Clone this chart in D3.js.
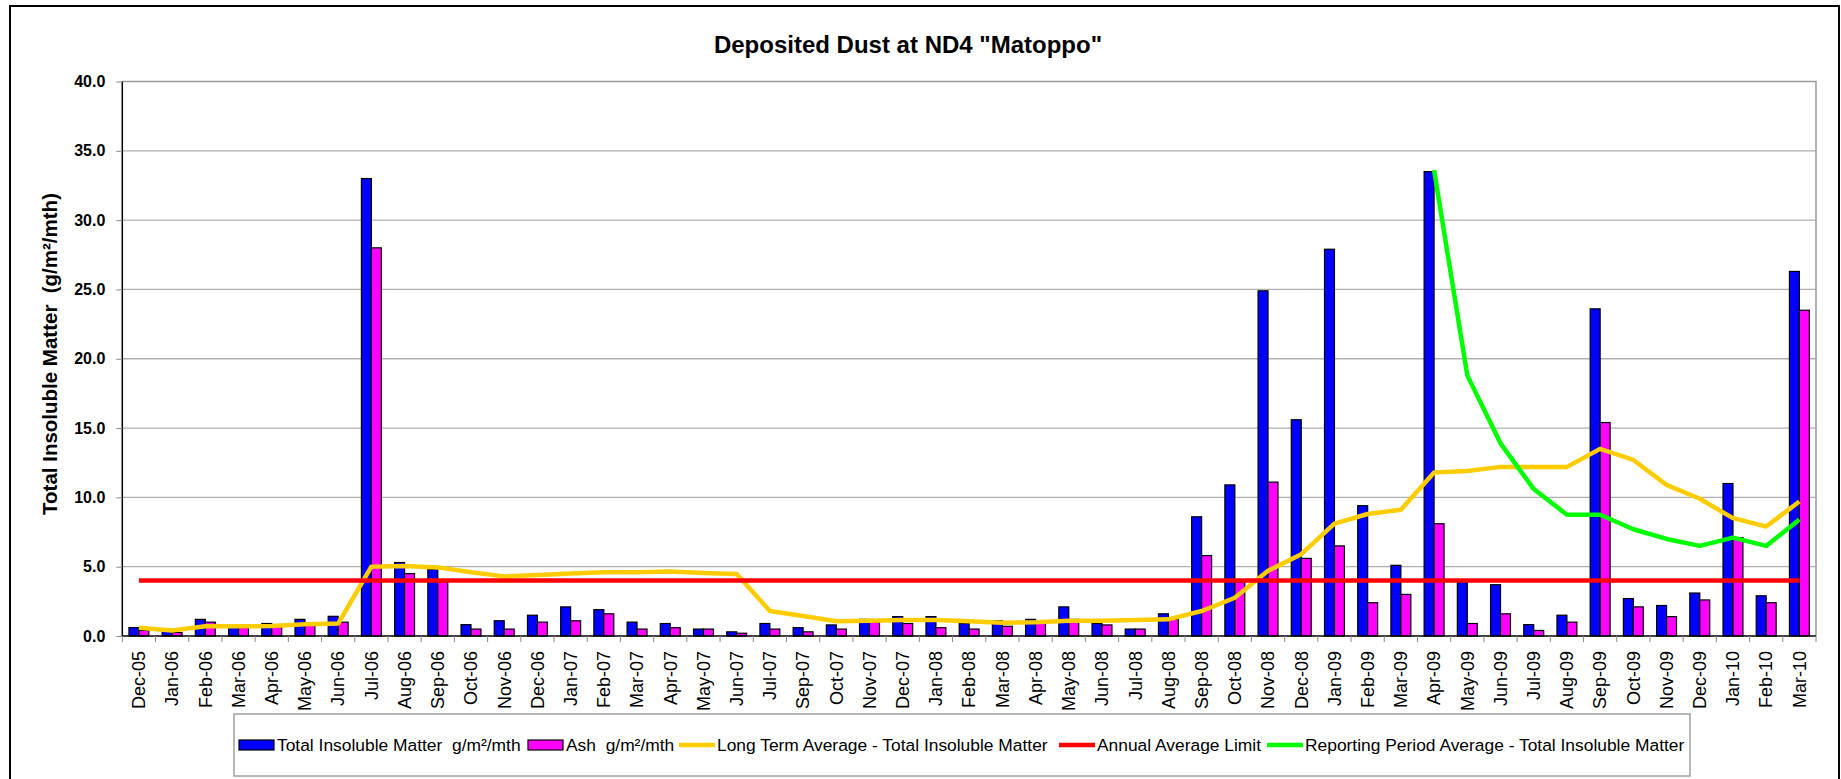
<!DOCTYPE html>
<html>
<head>
<meta charset="utf-8">
<script src="https://cdn.jsdelivr.net/npm/d3@7/dist/d3.min.js"></script>
<style>
  html, body { margin: 0; padding: 0; background: #fff; }
  svg { display: block; font-family: "Liberation Sans", Arial, sans-serif; }
</style>
</head>
<body>
<svg id="chart" width="1841" height="779"></svg>
<script>
const months = ["Dec-05","Jan-06","Feb-06","Mar-06","Apr-06","May-06","Jun-06","Jul-06","Aug-06","Sep-06","Oct-06","Nov-06","Dec-06","Jan-07","Feb-07","Mar-07","Apr-07","May-07","Jun-07","Jul-07","Sep-07","Oct-07","Nov-07","Dec-07","Jan-08","Feb-08","Mar-08","Apr-08","May-08","Jun-08","Jul-08","Aug-08","Sep-08","Oct-08","Nov-08","Dec-08","Jan-09","Feb-09","Mar-09","Apr-09","May-09","Jun-09","Jul-09","Aug-09","Sep-09","Oct-09","Nov-09","Dec-09","Jan-10","Feb-10","Mar-10"];

const totalInsoluble = [0.6,0.35,1.2,0.6,0.9,1.2,1.42,33.0,5.3,4.8,0.82,1.1,1.5,2.1,1.9,1.0,0.9,0.5,0.3,0.9,0.6,0.8,1.2,1.4,1.4,0.9,1.1,1.2,2.1,0.9,0.5,1.6,8.6,10.9,24.9,15.6,27.9,9.4,5.1,33.5,3.9,3.7,0.82,1.5,23.6,2.7,2.2,3.1,11.0,2.9,26.3];

const ash = [0.4,0.25,1.0,0.6,0.75,0.9,1.0,28.0,4.5,3.9,0.5,0.5,1.0,1.1,1.6,0.5,0.6,0.5,0.2,0.5,0.3,0.5,1.0,0.9,0.6,0.5,0.7,0.9,1.2,0.8,0.5,1.2,5.8,3.9,11.1,5.6,6.5,2.4,3.0,8.1,0.9,1.6,0.4,1.0,15.4,2.1,1.4,2.6,7.1,2.4,23.5];

const longTermAvg = [0.6,0.4,0.7,0.7,0.72,0.85,0.9,5.0,5.05,4.95,4.6,4.3,4.4,4.5,4.6,4.6,4.65,4.55,4.47,1.8,1.45,1.06,1.1,1.15,1.15,1.06,0.96,1.0,1.1,1.1,1.15,1.2,1.8,2.76,4.7,5.9,8.1,8.8,9.1,11.8,11.9,12.2,12.2,12.2,13.5,12.7,10.9,9.9,8.5,7.9,9.7];

const annualLimit = months.map(() => 4.0);

const reportingAvg = [null,null,null,null,null,null,null,null,null,null,null,null,null,null,null,null,null,null,null,null,null,null,null,null,null,null,null,null,null,null,null,null,null,null,null,null,null,null,null,33.6,18.8,13.9,10.6,8.75,8.75,7.7,7.0,6.5,7.1,6.5,8.4];

const yTicks = [0,5,10,15,20,25,30,35,40];

const titleText = 'Deposited Dust at ND4 "Matoppo"';
const yTitle = "Total Insoluble Matter  (g/m\u00B2/mth)";
const legendLabels = [
  "Total Insoluble Matter  g/m\u00B2/mth",
  "Ash  g/m\u00B2/mth",
  "Long Term Average - Total Insoluble Matter",
  "Annual Average Limit",
  "Reporting Period Average - Total Insoluble Matter"
];

const svg = d3.select("#chart");
const plot = { left: 122.3, right: 1816, top: 81.5, bottom: 636 };

// outer border
svg.append("rect").attr("x", 10).attr("y", 6).attr("width", 1829).attr("height", 800)
  .attr("fill", "#fff").attr("stroke", "#000").attr("stroke-width", 2);

const x = d3.scaleBand().domain(months).range([plot.left, plot.right]).paddingInner(0).paddingOuter(0);
const y = d3.scaleLinear().domain([0, 40]).range([plot.bottom, plot.top]);
const bw = x.bandwidth();
const barW = bw * 0.30;

// gridlines
svg.append("g").selectAll("line").data(yTicks.filter(d => d > 0 && d < 40)).join("line")
  .attr("x1", plot.left).attr("x2", plot.right)
  .attr("y1", d => y(d)).attr("y2", d => y(d))
  .attr("stroke", "#b0b0b0").attr("stroke-width", 1.3);

// plot area top & right border
svg.append("path")
  .attr("d", `M${plot.left},${y(40)}H${plot.right}V${plot.bottom}`)
  .attr("fill", "none").attr("stroke", "#9a9a9a").attr("stroke-width", 1.5);

// bars
const barsG = svg.append("g");
barsG.selectAll("rect.tim").data(months).join("rect")
  .attr("class", "tim")
  .attr("x", d => x(d) + bw / 2 - barW)
  .attr("y", (d, i) => y(totalInsoluble[i]))
  .attr("width", barW)
  .attr("height", (d, i) => y(0) - y(totalInsoluble[i]))
  .attr("fill", "#0000FF").attr("stroke", "#000").attr("stroke-width", 1.2);
barsG.selectAll("rect.ash").data(months).join("rect")
  .attr("class", "ash")
  .attr("x", d => x(d) + bw / 2)
  .attr("y", (d, i) => y(ash[i]))
  .attr("width", barW)
  .attr("height", (d, i) => y(0) - y(ash[i]))
  .attr("fill", "#FF00FF").attr("stroke", "#000").attr("stroke-width", 1.2);

// lines
const lineGen = d3.line()
  .defined(d => d.v !== null)
  .x(d => x(d.m) + bw / 2)
  .y(d => y(d.v));
function series(arr) { return months.map((m, i) => ({ m, v: arr[i] })); }

svg.append("path").datum(series(longTermAvg)).attr("d", lineGen)
  .attr("fill", "none").attr("stroke", "#FFCC00").attr("stroke-width", 4.5).attr("stroke-linejoin", "round");
svg.append("path").datum(series(annualLimit)).attr("d", lineGen)
  .attr("fill", "none").attr("stroke", "#FF0000").attr("stroke-width", 4.5);
svg.append("path").datum(series(reportingAvg)).attr("d", lineGen)
  .attr("fill", "none").attr("stroke", "#00FF00").attr("stroke-width", 4.5).attr("stroke-linejoin", "round");

// y axis
const yAxis = d3.axisLeft(y).tickValues(yTicks).tickFormat(d3.format(".1f")).tickSize(6).tickPadding(11);
const yG = svg.append("g").attr("transform", `translate(${plot.left},0)`).call(yAxis);
yG.select(".domain").attr("stroke", "#000").attr("stroke-width", 1.5).attr("d", `M0,${plot.top}V${plot.bottom}`);
yG.selectAll(".tick line").attr("stroke", "#888");
yG.selectAll(".tick text").attr("font-size", 16).attr("font-weight", "bold")
  .attr("font-family", "Liberation Sans, Arial, sans-serif").attr("fill", "#000");

// x axis
const xAxis = d3.axisBottom(x).tickSize(0).tickPadding(0);
const xG = svg.append("g").attr("transform", `translate(0,${plot.bottom})`).call(xAxis);
xG.select(".domain").attr("stroke", "#000").attr("stroke-width", 1.5).attr("d", `M${plot.left},0H${plot.right}`);
xG.selectAll(".tick text")
  .attr("font-size", 18).attr("font-family", "Liberation Sans, Arial, sans-serif").attr("fill", "#000")
  .attr("transform", "rotate(-90)")
  .attr("text-anchor", "end")
  .attr("x", -15).attr("y", 0).attr("dy", "0.35em");
// boundary ticks
svg.append("g").selectAll("line").data(months.concat(["__end"])).join("line")
  .attr("x1", (d, i) => plot.left + i * bw).attr("x2", (d, i) => plot.left + i * bw)
  .attr("y1", plot.bottom).attr("y2", plot.bottom + 6)
  .attr("stroke", "#888").attr("stroke-width", 1);

// title
svg.append("text").attr("x", 908).attr("y", 53).attr("text-anchor", "middle")
  .attr("font-size", 24).attr("font-weight", "bold").attr("fill", "#000").text(titleText);

// y title
svg.append("text").attr("transform", "translate(57,354) rotate(-90)").attr("text-anchor", "middle")
  .attr("font-size", 20.5).attr("font-weight", "bold").attr("fill", "#000")
  .style("white-space", "pre").text(yTitle);

// legend
const lg = svg.append("g");
lg.append("rect").attr("x", 234).attr("y", 714).attr("width", 1456).attr("height", 62)
  .attr("fill", "#fff").attr("stroke", "#a0a0a0").attr("stroke-width", 1.5);
const legendStyles = [
  { type: "rect", color: "#0000FF", x: 239 },
  { type: "rect", color: "#FF00FF", x: 528 },
  { type: "line", color: "#FFCC00", x: 679 },
  { type: "line", color: "#FF0000", x: 1059 },
  { type: "line", color: "#00FF00", x: 1267 }
];
const ly = 745;
legendLabels.forEach((lab, i) => {
  const s = legendStyles[i];
  if (s.type === "rect") {
    lg.append("rect").attr("x", s.x).attr("y", ly - 5).attr("width", 35).attr("height", 10)
      .attr("fill", s.color).attr("stroke", "#000").attr("stroke-width", 1.2);
  } else {
    lg.append("line").attr("x1", s.x).attr("x2", s.x + 36).attr("y1", ly).attr("y2", ly)
      .attr("stroke", s.color).attr("stroke-width", 4.5);
  }
  lg.append("text").attr("x", s.x + 38).attr("y", ly).attr("dy", "0.35em")
    .attr("font-size", 17.4).attr("fill", "#000").style("white-space", "pre").text(lab);
});
</script>
</body>
</html>
